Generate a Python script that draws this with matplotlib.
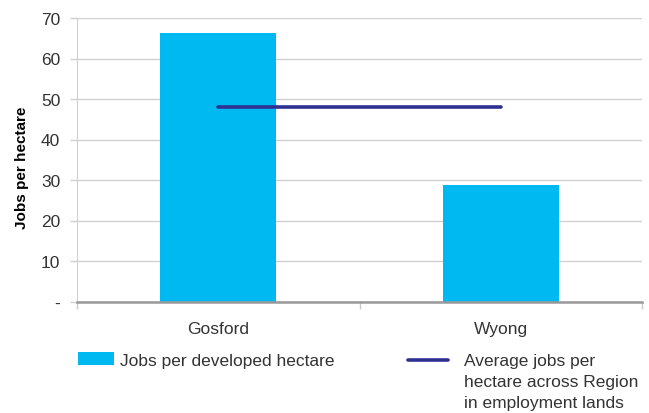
import matplotlib
matplotlib.use('Agg')
from matplotlib import pyplot as plt

plt.rcParams['font.family'] = ['Liberation Sans', 'DejaVu Sans']

categories = ['Gosford', 'Wyong']
jobs_per_ha = [66.3, 28.8]
region_avg = [48.0, 48.0]
yticks = [0, 10, 20, 30, 40, 50, 60, 70]
ytick_labels = ['-', '10', '20', '30', '40', '50', '60', '70']
bar_label = 'Jobs per developed hectare'
line_label = 'Average jobs per\nhectare across Region\nin employment lands'

bar_color = '#00B9F1'
line_color = '#2E3192'
text_color = '#333333'


def graphing():
    W, H = 649, 414
    fig = plt.figure(figsize=(W / 100, H / 100), dpi=100)
    ax = fig.add_axes([77 / W, 1 - 302.5 / H, 565 / W, 283.5 / H])

    x = list(range(len(categories)))
    bars = ax.bar(x, jobs_per_ha, width=0.41, color=bar_color, zorder=2)
    line, = ax.plot(x, region_avg, color=line_color, lw=2.6,
                    solid_capstyle='round', zorder=3)

    ax.set_xlim(-0.5, 1.5)
    ax.set_ylim(0, 70)
    ax.set_yticks(yticks)
    ax.set_yticklabels(ytick_labels)
    ax.set_xticks(x)
    ax.set_xticklabels(categories)
    # category separators as minor ticks
    ax.set_xticks([-0.5, 0.5, 1.5], minor=True)
    ax.tick_params(axis='x', which='major', length=0, pad=14,
                   labelsize=12.5, labelcolor=text_color)
    ax.tick_params(axis='x', which='minor', length=5, color='#C8C8C8', width=1)
    ax.tick_params(axis='y', length=5, color='#D0D0D0', width=1,
                   labelsize=12.5, labelcolor=text_color, pad=7)

    ax.grid(axis='y', color='#D0D0D0', lw=1, zorder=0)
    for s in ['top', 'right']:
        ax.spines[s].set_visible(False)
    ax.spines['left'].set_color('#D0D0D0')
    ax.spines['bottom'].set_color('#999999')
    ax.spines['bottom'].set_linewidth(1.8)
    ax.spines['bottom'].set_zorder(4)

    ax.set_ylabel('Jobs per hectare', fontsize=11, fontweight='bold',
                  color='black')
    ax.yaxis.set_label_coords(-0.085, 0.474)

    # legend: bar key
    fig.legend(handles=[bars], labels=[bar_label], loc='center left',
               bbox_to_anchor=(78 / W, 1 - 361 / H), frameon=False,
               borderpad=0, borderaxespad=0,
               fontsize=12.5, handlelength=2.05, handleheight=0.8,
               handletextpad=0.35, labelcolor=text_color)
    # legend: line key, label written beside it
    fig.legend(handles=[line], labels=[''], loc='center left',
               bbox_to_anchor=(408 / W, 1 - 362 / H), frameon=False,
               borderpad=0, borderaxespad=0,
               fontsize=12.5, handlelength=2.3, handletextpad=0)
    fig.text(464 / W, 1 - 354 / H, line_label, fontsize=12.5,
             color=text_color, ha='left', va='top', linespacing=1.5)

    fig.savefig('out.png', dpi=100)


if __name__ == "__main__":
    graphing()
